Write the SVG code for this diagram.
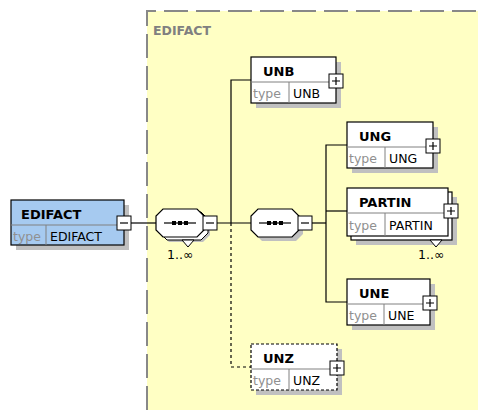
<svg xmlns="http://www.w3.org/2000/svg" width="478" height="410" viewBox="0 0 478 410">
<style>
.box{fill:#fff;stroke:#000;stroke-width:1.2}
.opt{stroke-dasharray:3,2}
.shadow{fill:#c0c0c0}
.name{font-family:"DejaVu Sans",sans-serif;font-weight:bold;font-size:13px;fill:#000}
.tl{font-family:"DejaVu Sans",sans-serif;font-size:12.5px;fill:#909090}
.tv{font-family:"DejaVu Sans",sans-serif;font-size:12.5px;fill:#000}
.sep{stroke:#808080;stroke-width:1}
.pm{fill:#fff;stroke:#000;stroke-width:1}
.pml{stroke:#000;stroke-width:1.2}
.conn{fill:none;stroke:#000;stroke-width:1.2}
.occ{font-family:"DejaVu Sans",sans-serif;font-size:12.5px;fill:#000}
</style>
<defs>
<polygon id="oct" points="7,0 41,0 48,7 48,21 41,28 7,28 0,21 0,7"/>
</defs>
<g id="group-EDIFACT">
<rect x="147" y="11" width="335" height="404" fill="#ffffc4"/>
<path d="M147,410 V11 H478" fill="none" stroke="#888" stroke-width="2" stroke-dasharray="24,8"/>
<text x="153" y="35" font-family="DejaVu Sans,sans-serif" font-weight="bold" font-size="12.5" fill="#808080">EDIFACT</text>
</g>
<g id="connectors">
<line class="conn" x1="131" y1="223" x2="157" y2="223"/>
<line class="conn" x1="217" y1="223" x2="251" y2="223"/>
<line class="conn" x1="312" y1="223" x2="326" y2="223"/>
<polyline class="conn" points="251,80 231,80 231,223"/>
<polyline class="conn" points="231,223 231,367 251,367" stroke-dasharray="3,3"/>
<polyline class="conn" points="347,145 326,145 326,302 347,302"/>
<line class="conn" x1="326" y1="211" x2="347" y2="211"/>
</g>
<g id="EDIFACT">
<rect class="shadow" x="16" y="205" width="113" height="45"/>
<rect x="11" y="200" width="113" height="45" fill="#a6caf0" stroke="#000" stroke-width="1.2"/>
<line class="sep" x1="11" y1="225" x2="124" y2="225"/>
<line class="sep" x1="46" y1="225" x2="46" y2="245"/>
<text class="name" x="21" y="219">EDIFACT</text>
<text class="tl" x="13" y="241">type</text>
<text class="tv" x="50" y="241">EDIFACT</text>
<rect class="pm" x="117" y="216" width="14" height="14"/>
<line class="pml" x1="120" y1="223" x2="128" y2="223"/>
</g>
<g id="seq1">
<use href="#oct" x="162" y="214" fill="#c0c0c0"/>
<use href="#oct" x="160" y="212" fill="#fff" stroke="#000" stroke-width="1"/>
<polygon points="182,240 194,240 188,247" fill="#fff" stroke="#000" stroke-width="1"/>
<use href="#oct" x="156" y="209" fill="#fff" stroke="#000" stroke-width="1.2"/>
<line class="pml" x1="164" y1="223" x2="196" y2="223"/>
<rect x="172" y="221" width="4" height="4"/><rect x="178" y="221" width="4" height="4"/><rect x="184" y="221" width="4" height="4"/>
<rect class="pm" x="203" y="216" width="14" height="14"/>
<line class="pml" x1="206" y1="223" x2="214" y2="223"/>
<text class="occ" x="167" y="259">1..∞</text>
</g>
<g id="seq2">
<use href="#oct" x="255" y="213" fill="#c0c0c0"/>
<use href="#oct" x="251" y="209" fill="#fff" stroke="#000" stroke-width="1.2"/>
<line class="pml" x1="259" y1="223" x2="291" y2="223"/>
<rect x="267" y="221" width="4" height="4"/><rect x="273" y="221" width="4" height="4"/><rect x="279" y="221" width="4" height="4"/>
<rect class="pm" x="298" y="216" width="14" height="14"/>
<line class="pml" x1="301" y1="223" x2="309" y2="223"/>
</g>
<g id="UNB">
<rect class="shadow" x="256" y="62" width="85" height="46"/>
<rect class="box" x="251" y="57" width="85" height="46"/>
<line class="sep" x1="251" y1="82" x2="336" y2="82"/>
<line class="sep" x1="289" y1="82" x2="289" y2="103"/>
<text class="name" x="263" y="76">UNB</text>
<text class="tl" x="253" y="98">type</text>
<text class="tv" x="293" y="98">UNB</text>
<rect class="pm" x="329" y="74" width="14" height="14"/>
<path class="pml" d="M332,81 H340 M336,77 V85"/>
</g>
<g id="UNG">
<rect class="shadow" x="352" y="127" width="86" height="46"/>
<rect class="box" x="347" y="122" width="86" height="46"/>
<line class="sep" x1="347" y1="147" x2="433" y2="147"/>
<line class="sep" x1="385" y1="147" x2="385" y2="168"/>
<text class="name" x="359" y="141">UNG</text>
<text class="tl" x="349" y="163">type</text>
<text class="tv" x="389" y="163">UNG</text>
<rect class="pm" x="426" y="139" width="14" height="14"/>
<path class="pml" d="M429,146 H437 M433,142 V150"/>
</g>
<g id="PARTIN">
<rect class="shadow" x="356" y="197" width="101" height="48"/>
<rect class="box" x="351" y="192" width="101" height="48"/>
<polygon points="430,240 442,240 436,247" fill="#fff" stroke="#000" stroke-width="1"/>
<rect class="box" x="347" y="188" width="101" height="48"/>
<line class="sep" x1="347" y1="213" x2="448" y2="213"/>
<line class="sep" x1="385" y1="213" x2="385" y2="236"/>
<text class="name" x="359" y="207">PARTIN</text>
<text class="tl" x="349" y="230">type</text>
<text class="tv" x="389" y="230">PARTIN</text>
<rect class="pm" x="444" y="204" width="14" height="14"/>
<path class="pml" d="M447,211 H455 M451,207 V215"/>
<text class="occ" x="418" y="259">1..∞</text>
</g>
<g id="UNE">
<rect class="shadow" x="352" y="284" width="83" height="46"/>
<rect class="box" x="347" y="279" width="83" height="46"/>
<line class="sep" x1="347" y1="304" x2="430" y2="304"/>
<line class="sep" x1="384" y1="304" x2="384" y2="325"/>
<text class="name" x="359" y="298">UNE</text>
<text class="tl" x="349" y="320">type</text>
<text class="tv" x="388" y="320">UNE</text>
<rect class="pm" x="423" y="296" width="14" height="14"/>
<path class="pml" d="M426,303 H434 M430,299 V307"/>
</g>
<g id="UNZ">
<rect class="shadow" x="256" y="349" width="86" height="46"/>
<rect class="box opt" x="251" y="344" width="86" height="46"/>
<line class="sep" x1="251" y1="369" x2="337" y2="369"/>
<line class="sep" x1="289" y1="369" x2="289" y2="390"/>
<text class="name" x="263" y="363">UNZ</text>
<text class="tl" x="253" y="385">type</text>
<text class="tv" x="293" y="385">UNZ</text>
<rect class="pm" x="330" y="361" width="14" height="14"/>
<path class="pml" d="M333,368 H341 M337,364 V372"/>
</g>
</svg>
